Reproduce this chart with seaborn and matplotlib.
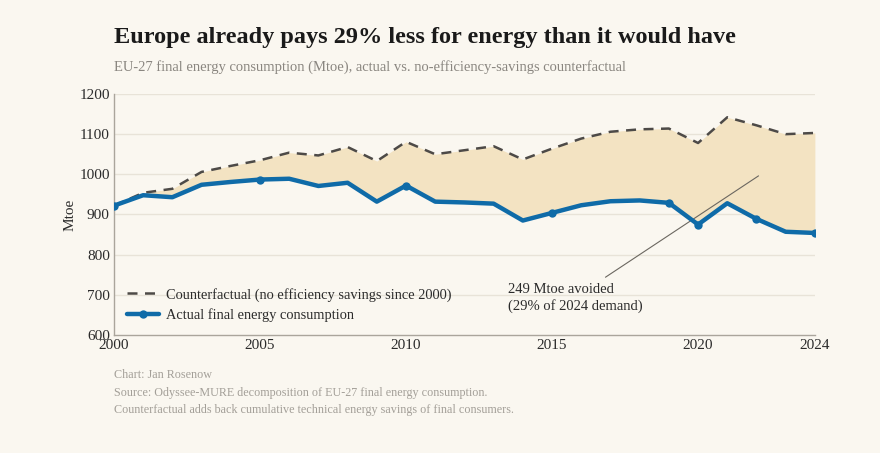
import numpy as np
import pandas as pd
import matplotlib
matplotlib.use("Agg")
import matplotlib.pyplot as plt
import seaborn as sns

# Valeurs (Mtoe)
years = list(range(2000, 2025))
actual = [922, 948, 943, 974, 981, 987, 989, 971, 979, 932, 972, 932, 930, 927,
          885, 904, 923, 933, 935, 929, 875, 928, 889, 857, 854]
counterfactual = [922, 954, 964, 1006, 1021, 1035, 1054, 1047, 1068, 1033, 1081,
                  1050, 1060, 1070, 1037, 1064, 1089, 1106, 1112, 1114, 1078,
                  1142, 1122, 1100, 1103]
marker_years = [2000, 2005, 2010, 2015, 2019, 2020, 2022, 2024]
x_ticks = [2000, 2005, 2010, 2015, 2020, 2024]
y_ticks = [600, 700, 800, 900, 1000, 1100, 1200]

df = pd.DataFrame({"year": years, "actual": actual, "counterfactual": counterfactual})

bg = "#faf7f0"
blue = "#0f6ba8"
dark = "#4d4a47"
fill = "#f3e3c2"

sns.set_theme(style="white")
plt.rcParams["font.family"] = ["Liberation Serif", "DejaVu Serif"]

fig = plt.figure(figsize=(8.8, 4.53), dpi=100, facecolor=bg)
ax = fig.add_axes([0.1295, 0.2605, 0.7965, 0.532])
ax.set_facecolor(bg)

ax.fill_between(df["year"], df["actual"], df["counterfactual"], color=fill, lw=0, zorder=1)
for yv in y_ticks[1:]:
    ax.axhline(yv, color="#e8e3d8", lw=1, zorder=0.5)

sns.lineplot(data=df, x="year", y="counterfactual", ax=ax, color=dark, lw=1.8,
             dashes=False, linestyle=(0, (4, 3)), zorder=3,
             label="Counterfactual (no efficiency savings since 2000)")
marks = [years.index(y) for y in marker_years]
sns.lineplot(data=df, x="year", y="actual", ax=ax, color=blue, lw=3.2,
             marker="o", markersize=6, markevery=marks, markeredgewidth=0, zorder=4,
             label="Actual final energy consumption")

ax.set_xlim(2000, 2024)
ax.set_ylim(600, 1200)
ax.set_xticks(x_ticks)
ax.set_yticks(y_ticks)
ax.tick_params(axis="both", length=0, labelsize=11, labelcolor="#2b2b2b", pad=3)
ax.set_xlabel("")
ax.set_ylabel("Mtoe", fontsize=11, color="#2b2b2b", labelpad=2)
for s in ["top", "right"]:
    ax.spines[s].set_visible(False)
for s in ["left", "bottom"]:
    ax.spines[s].set_color("#aaa59c")
    ax.spines[s].set_linewidth(1)

ax.legend(loc="lower left", bbox_to_anchor=(0.0, 0.0), frameon=False, fontsize=10.4,
          handlelength=2.2, handletextpad=0.5, labelcolor="#2b2b2b",
          borderaxespad=0.5, labelspacing=0.45)

ax.annotate("", xy=(2022.15, 1000), xytext=(2016.75, 740),
            arrowprops=dict(arrowstyle="-", color="#6b6760", lw=0.8))
ax.text(2013.5, 730, "249 Mtoe avoided\n(29% of 2024 demand)", fontsize=10.5,
        color="#2b2b2b", va="top", ha="left", linespacing=1.3)

fig.text(0.1295, 0.918, "Europe already pays 29% less for energy than it would have",
         fontsize=17.5, fontweight="bold", color="#1a1a1a", va="center")
fig.text(0.1295, 0.852, "EU-27 final energy consumption (Mtoe), actual vs. no-efficiency-savings counterfactual",
         fontsize=10.5, color="#8a8680", va="center")
fig.text(0.1295, 0.185, "Chart: Jan Rosenow\n"
         "Source: Odyssee-MURE decomposition of EU-27 final energy consumption.\n"
         "Counterfactual adds back cumulative technical energy savings of final consumers.",
         fontsize=8.7, color="#a39f98", va="top", linespacing=1.6)

fig.savefig("out.png", dpi=100, facecolor=bg)
